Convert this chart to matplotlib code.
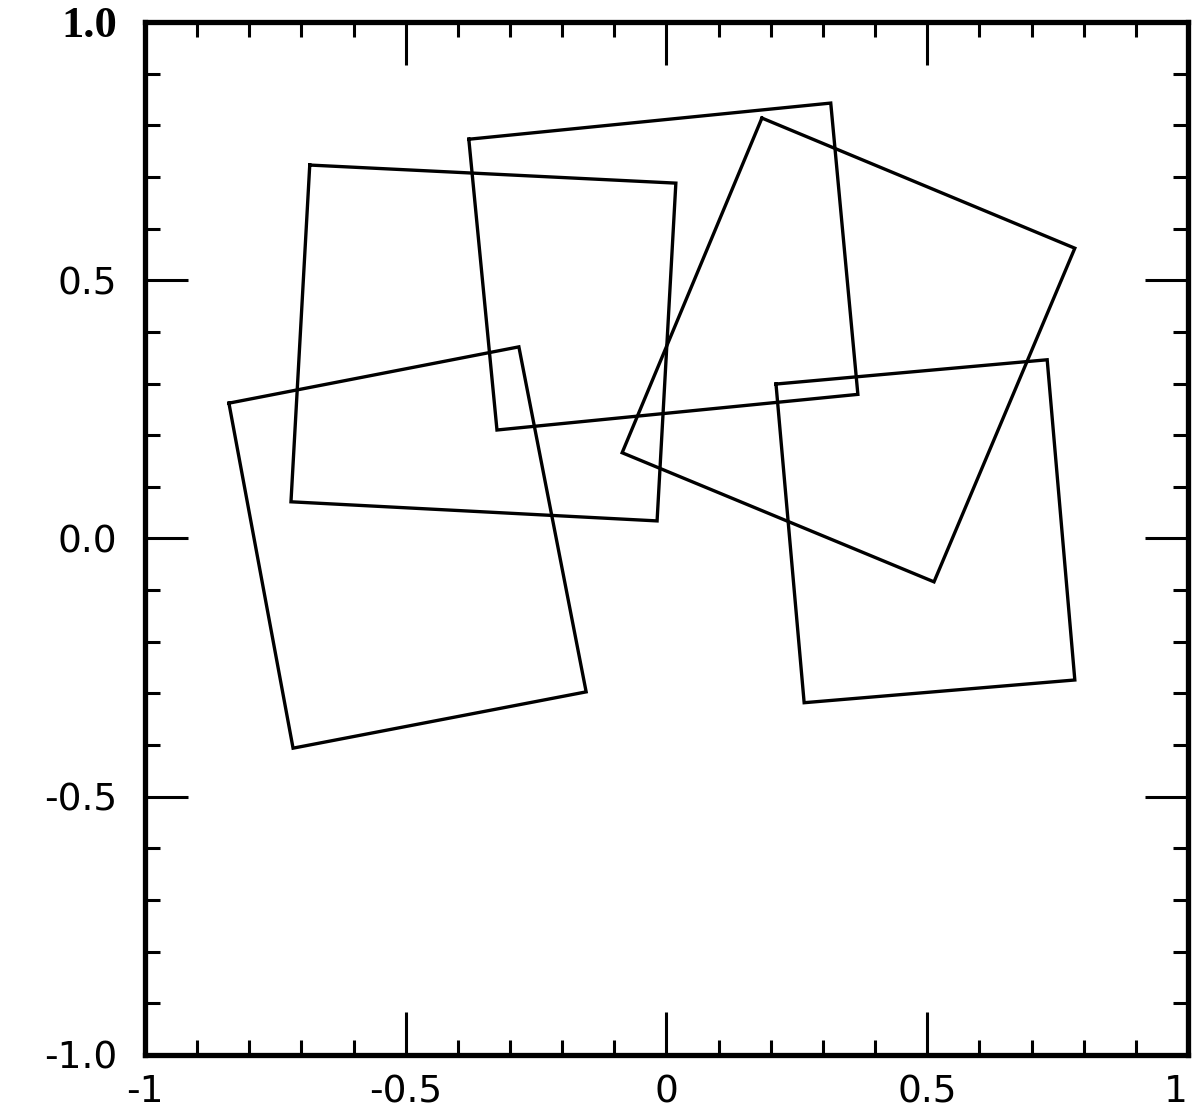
import matplotlib
matplotlib.use("Agg")
import matplotlib.pyplot as plt
import numpy as np

# Square vertices (data coordinates)
sq1_x = [-0.684, 0.018, -0.018, -0.720]
sq1_y = [0.723, 0.688, 0.034, 0.071]
sq2_x = [-0.379, 0.315, 0.367, -0.325]
sq2_y = [0.773, 0.843, 0.279, 0.210]
sq3_x = [0.183, 0.783, 0.513, -0.085]
sq3_y = [0.814, 0.562, -0.084, 0.166]
sq4_x = [-0.839, -0.283, -0.154, -0.716]
sq4_y = [0.262, 0.371, -0.297, -0.406]
sq5_x = [0.210, 0.730, 0.783, 0.264]
sq5_y = [0.299, 0.346, -0.274, -0.318]

x_ticks = [-1, -0.5, 0, 0.5, 1]
x_labels = ["-1", "-0.5", "0", "0.5", "1"]
y_ticks = [-1.0, -0.5, 0.0, 0.5, 1.0]
y_labels = ["-1.0", "-0.5", "0.0", "0.5", "1.0"]

fig = plt.figure(figsize=(11.93, 11.16), dpi=100)
ax = fig.add_axes([0.1215, 0.0547, 0.8743, 0.9256])

for xs, ys in [(sq1_x, sq1_y), (sq2_x, sq2_y), (sq3_x, sq3_y), (sq4_x, sq4_y), (sq5_x, sq5_y)]:
    ax.plot(xs + xs[:1], ys + ys[:1], color="black", lw=2.4, solid_joinstyle="miter")

ax.set_xlim(-1, 1)
ax.set_ylim(-1, 1)

ax.set_xticks(x_ticks)
ax.set_xticklabels(x_labels)
ax.set_yticks(y_ticks)
ax.set_yticklabels(y_labels)
ax.set_xticks(np.arange(-1, 1.0001, 0.1), minor=True)
ax.set_yticks(np.arange(-1, 1.0001, 0.1), minor=True)

ax.tick_params(which="major", direction="in", length=31, width=2.2,
               top=True, right=True, labelsize=27)
ax.tick_params(which="minor", direction="in", length=11, width=2.2,
               top=True, right=True)
ax.tick_params(axis="x", which="major", pad=14)
ax.tick_params(axis="y", which="major", pad=20)

for lab in ax.get_xticklabels() + ax.get_yticklabels():
    lab.set_fontfamily("DejaVu Sans")
    lab.set_fontweight("normal")
xtl = ax.get_xticklabels()
xtl[-1].set_horizontalalignment("right")
ytl = ax.get_yticklabels()
ytl[-1].set_fontfamily("Liberation Serif")
ytl[-1].set_fontweight("bold")
ytl[-1].set_fontsize(32)

for sp in ax.spines.values():
    sp.set_linewidth(3.8)

fig.savefig("out.png", dpi=100)
